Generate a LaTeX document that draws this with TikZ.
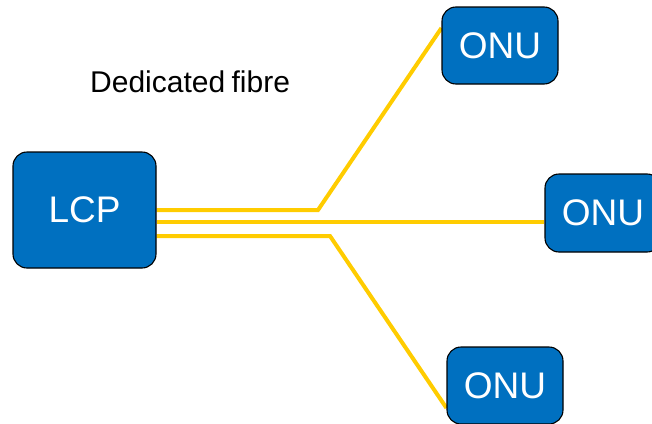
\documentclass[tikz,border=0pt]{standalone}
\usepackage{fontspec}
\setmainfont{Liberation Sans}
\definecolor{boxblue}{HTML}{0070C0}
\definecolor{fibre}{HTML}{FFCC00}
\pgfdeclarelayer{fibres}
\pgfsetlayers{fibres,main}
\begin{document}
\begin{tikzpicture}[x=1pt,y=-1pt,
  unit/.style={draw=black, line width=1.1pt, fill=boxblue, rounded corners=14pt,
    text=white, inner sep=0pt, font=\fontsize{37}{40}\selectfont},
  fibreline/.style={draw=fibre, line width=4pt}]
  \useasboundingbox (0,0) rectangle (652,423);

  % equipment boxes
  \node[unit, minimum width=143pt, minimum height=116pt] (lcp) at (84.5,210) {LCP};
  \node[unit, minimum width=116pt, minimum height=77pt] (onu1) at (500,45.5) {ONU};
  \node[unit, minimum width=116pt, minimum height=78pt] (onu2) at (603,213) {ONU};
  \node[unit, minimum width=116pt, minimum height=77pt] (onu3) at (505,385.5) {ONU};

  % bend points and fibre levels
  \coordinate (top) at (318,210);
  \coordinate (mid) at (0,222);
  \coordinate (bot) at (330,236);
  \coordinate (endtop) at (0,28);
  \coordinate (endbot) at (0,408);

  % dedicated fibres, kept behind the boxes
  \begin{pgfonlayer}{fibres}
    \draw[fibreline] (lcp.east |- top) -- (top) -- (onu1.west |- endtop);
    \draw[fibreline] (lcp.east |- mid) -- (onu2.west |- mid);
    \draw[fibreline] (lcp.east |- bot) -- (bot) -- (onu3.west |- endbot);
  \end{pgfonlayer}

  \node[anchor=base west, inner sep=0pt, font=\fontsize{30}{34}\selectfont] (label) at (90,92) {Dedicated\hspace{-2pt} fibre};
\end{tikzpicture}
\end{document}
